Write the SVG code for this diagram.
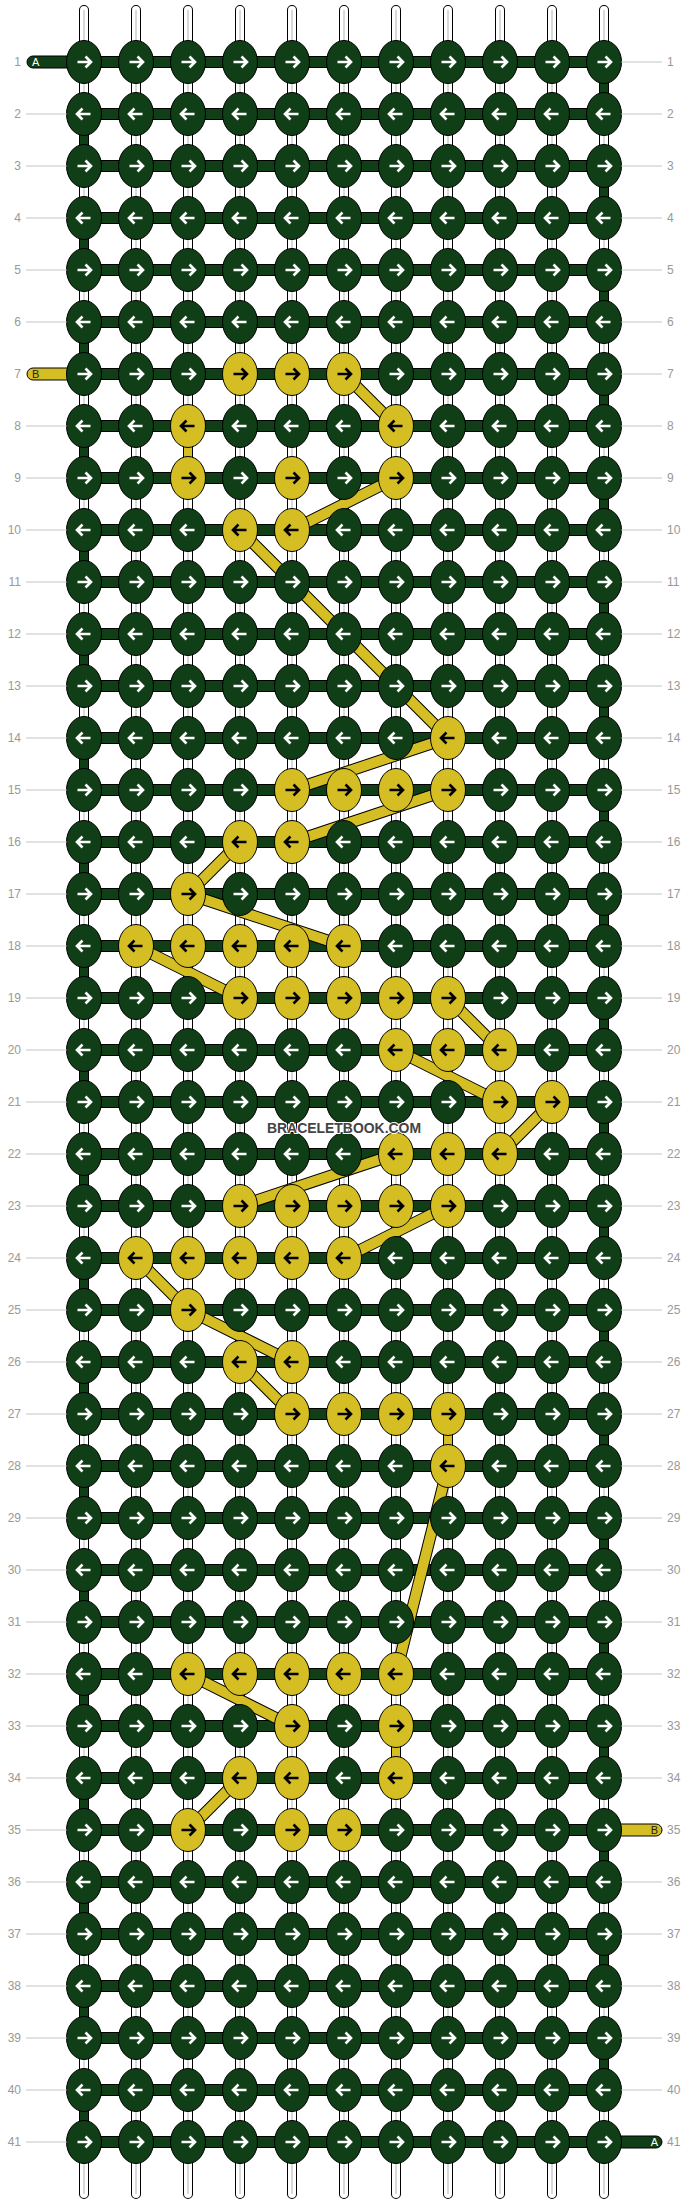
<svg xmlns="http://www.w3.org/2000/svg" width="688" height="2204" viewBox="0 0 688 2204">
<style>
.so{fill:none;stroke:#000;stroke-width:10;stroke-linecap:round}
.si{fill:none;stroke:#fff;stroke-width:8;stroke-linecap:round}
.sc{fill:none;stroke:#b4b4b4;stroke-width:1}
.vo{fill:none;stroke:#000;stroke-width:10}
.vg{fill:none;stroke:#103e16;stroke-width:8}
.vy{fill:none;stroke:#d4be24;stroke-width:8}
.ho{fill:none;stroke:#000;stroke-width:12}
.hg{fill:none;stroke:#103e16;stroke-width:10}
.co{fill:none;stroke:#000;stroke-width:12}
.ci{fill:none;stroke:#d4be24;stroke-width:10}
.gl{fill:none;stroke:#c4c4c4;stroke-width:1}
.num{font-family:"Liberation Sans",Arial,sans-serif;font-size:12px;fill:#999}
.nr{text-anchor:end}
.lab{font-family:"Liberation Sans",Arial,sans-serif;font-size:11px}
.wm{font-family:"Liberation Sans",Arial,sans-serif;font-size:15px;font-weight:bold;fill:#444;stroke:#fff;stroke-width:2;paint-order:stroke;text-anchor:middle}
</style>
<defs>
<g id="GR"><ellipse rx="17.5" ry="21.5" fill="#103e16" stroke="#000"/><path d="M-6.5,0H7M1.5,-5.5L7,0L1.5,5.5" fill="none" stroke="#fff" stroke-width="2.6"/></g>
<g id="GL"><ellipse rx="17.5" ry="21.5" fill="#103e16" stroke="#000"/><path d="M6.5,0H-7M-1.5,-5.5L-7,0L-1.5,5.5" fill="none" stroke="#fff" stroke-width="2.6"/></g>
<g id="YR"><ellipse rx="17.5" ry="21.5" fill="#d4be24" stroke="#000"/><path d="M-6.5,0H7M1.5,-5.5L7,0L1.5,5.5" fill="none" stroke="#000" stroke-width="2.6"/></g>
<g id="YL"><ellipse rx="17.5" ry="21.5" fill="#d4be24" stroke="#000"/><path d="M6.5,0H-7M-1.5,-5.5L-7,0L-1.5,5.5" fill="none" stroke="#000" stroke-width="2.6"/></g>
</defs>

<g id="strings">
<path class="so" d="M84,10V2194M136,10V2194M188,10V2194M240,10V2194M292,10V2194M344,10V2194M396,10V2194M448,10V2194M500,10V2194M552,10V2194M604,10V2194"/>
<path class="si" d="M84,10V2194M136,10V2194M188,10V2194M240,10V2194M292,10V2194M344,10V2194M396,10V2194M448,10V2194M500,10V2194M552,10V2194M604,10V2194"/>
<path class="sc" d="M84,10V2194M136,10V2194M188,10V2194M240,10V2194M292,10V2194M344,10V2194M396,10V2194M448,10V2194M500,10V2194M552,10V2194M604,10V2194"/>
</g>

<g id="turns">
<path class="vo" d="M84,114V166M84,218V270M84,322V374M84,426V478M84,530V582M84,634V686M84,738V790M84,842V894M84,946V998M84,1050V1102M84,1154V1206M84,1258V1310M84,1362V1414M84,1466V1518M84,1570V1622M84,1674V1726M84,1778V1830M84,1882V1934M84,1986V2038M84,2090V2142M604,62V114M604,166V218M604,270V322M604,374V426M604,478V530M604,582V634M604,686V738M604,790V842M604,894V946M604,998V1050M604,1102V1154M604,1206V1258M604,1310V1362M604,1414V1466M604,1518V1570M604,1622V1674M604,1726V1778M604,1830V1882M604,1934V1986M604,2038V2090M188,426V478M448,1414V1466M396,1726V1778"/>
<path class="vg" d="M84,114V166M84,218V270M84,322V374M84,426V478M84,530V582M84,634V686M84,738V790M84,842V894M84,946V998M84,1050V1102M84,1154V1206M84,1258V1310M84,1362V1414M84,1466V1518M84,1570V1622M84,1674V1726M84,1778V1830M84,1882V1934M84,1986V2038M84,2090V2142M604,62V114M604,166V218M604,270V322M604,374V426M604,478V530M604,582V634M604,686V738M604,790V842M604,894V946M604,998V1050M604,1102V1154M604,1206V1258M604,1310V1362M604,1414V1466M604,1518V1570M604,1622V1674M604,1726V1778M604,1830V1882M604,1934V1986M604,2038V2090"/>
<path class="vy" d="M188,426V478M448,1414V1466M396,1726V1778"/>
</g>

<g id="bands">
<path class="ho" d="M84,62H604M84,114H604M84,166H604M84,218H604M84,270H604M84,322H604M84,374H604M84,426H604M84,478H604M84,530H604M84,582H604M84,634H604M84,686H604M84,738H604M84,790H604M84,842H604M84,894H604M84,946H604M84,998H604M84,1050H604M84,1102H604M84,1154H604M84,1206H604M84,1258H604M84,1310H604M84,1362H604M84,1414H604M84,1466H604M84,1518H604M84,1570H604M84,1622H604M84,1674H604M84,1726H604M84,1778H604M84,1830H604M84,1882H604M84,1934H604M84,1986H604M84,2038H604M84,2090H604M84,2142H604"/>
<path class="hg" d="M84,62H604M84,114H604M84,166H604M84,218H604M84,270H604M84,322H604M84,374H604M84,426H604M84,478H604M84,530H604M84,582H604M84,634H604M84,686H604M84,738H604M84,790H604M84,842H604M84,894H604M84,946H604M84,998H604M84,1050H604M84,1102H604M84,1154H604M84,1206H604M84,1258H604M84,1310H604M84,1362H604M84,1414H604M84,1466H604M84,1518H604M84,1570H604M84,1622H604M84,1674H604M84,1726H604M84,1778H604M84,1830H604M84,1882H604M84,1934H604M84,1986H604M84,2038H604M84,2090H604M84,2142H604"/>
</g>

<g id="ends">
<g id="endA1"><rect x="27" y="56" width="60" height="12" rx="6" fill="#103e16" stroke="#000"/><text class="lab" x="32" y="66" fill="#fff">A</text></g>
<g id="endB1"><rect x="27" y="368" width="60" height="12" rx="6" fill="#d4be24" stroke="#000"/><text class="lab" x="32" y="378" fill="#222">B</text></g>
<g id="endB2"><rect x="601" y="1824" width="61" height="12" rx="6" fill="#d4be24" stroke="#000"/><text class="lab" x="658" y="1834" fill="#222" text-anchor="end">B</text></g>
<g id="endA2"><rect x="601" y="2136" width="61" height="12" rx="6" fill="#103e16" stroke="#000"/><text class="lab" x="658" y="2146" fill="#fff" text-anchor="end">A</text></g>
</g>

<g id="connectors">
<path class="co" d="M344,374L396,426M396,478L292,530M240,530L448,738M448,738L292,790M448,790L292,842M240,842L188,894M188,894L344,946M136,946L240,998M448,998L500,1050M396,1050L500,1102M552,1102L500,1154M396,1154L240,1206M448,1206L344,1258M136,1258L188,1310M188,1310L292,1362M240,1362L292,1414M448,1466L396,1674M188,1674L292,1726M240,1778L188,1830"/>
<path class="ci" d="M344,374L396,426M396,478L292,530M240,530L448,738M448,738L292,790M448,790L292,842M240,842L188,894M188,894L344,946M136,946L240,998M448,998L500,1050M396,1050L500,1102M552,1102L500,1154M396,1154L240,1206M448,1206L344,1258M136,1258L188,1310M188,1310L292,1362M240,1362L292,1414M448,1466L396,1674M188,1674L292,1726M240,1778L188,1830"/>
</g>

<g id="knots">
<g id="row1" transform="translate(0,62)"><g id="n1-1"><use href="#GR" x="84"/></g><g id="n1-2"><use href="#GR" x="136"/></g><g id="n1-3"><use href="#GR" x="188"/></g><g id="n1-4"><use href="#GR" x="240"/></g><g id="n1-5"><use href="#GR" x="292"/></g><g id="n1-6"><use href="#GR" x="344"/></g><g id="n1-7"><use href="#GR" x="396"/></g><g id="n1-8"><use href="#GR" x="448"/></g><g id="n1-9"><use href="#GR" x="500"/></g><g id="n1-10"><use href="#GR" x="552"/></g><g id="n1-11"><use href="#GR" x="604"/></g></g>
<g id="row2" transform="translate(0,114)"><g id="n2-1"><use href="#GL" x="84"/></g><g id="n2-2"><use href="#GL" x="136"/></g><g id="n2-3"><use href="#GL" x="188"/></g><g id="n2-4"><use href="#GL" x="240"/></g><g id="n2-5"><use href="#GL" x="292"/></g><g id="n2-6"><use href="#GL" x="344"/></g><g id="n2-7"><use href="#GL" x="396"/></g><g id="n2-8"><use href="#GL" x="448"/></g><g id="n2-9"><use href="#GL" x="500"/></g><g id="n2-10"><use href="#GL" x="552"/></g><g id="n2-11"><use href="#GL" x="604"/></g></g>
<g id="row3" transform="translate(0,166)"><g id="n3-1"><use href="#GR" x="84"/></g><g id="n3-2"><use href="#GR" x="136"/></g><g id="n3-3"><use href="#GR" x="188"/></g><g id="n3-4"><use href="#GR" x="240"/></g><g id="n3-5"><use href="#GR" x="292"/></g><g id="n3-6"><use href="#GR" x="344"/></g><g id="n3-7"><use href="#GR" x="396"/></g><g id="n3-8"><use href="#GR" x="448"/></g><g id="n3-9"><use href="#GR" x="500"/></g><g id="n3-10"><use href="#GR" x="552"/></g><g id="n3-11"><use href="#GR" x="604"/></g></g>
<g id="row4" transform="translate(0,218)"><g id="n4-1"><use href="#GL" x="84"/></g><g id="n4-2"><use href="#GL" x="136"/></g><g id="n4-3"><use href="#GL" x="188"/></g><g id="n4-4"><use href="#GL" x="240"/></g><g id="n4-5"><use href="#GL" x="292"/></g><g id="n4-6"><use href="#GL" x="344"/></g><g id="n4-7"><use href="#GL" x="396"/></g><g id="n4-8"><use href="#GL" x="448"/></g><g id="n4-9"><use href="#GL" x="500"/></g><g id="n4-10"><use href="#GL" x="552"/></g><g id="n4-11"><use href="#GL" x="604"/></g></g>
<g id="row5" transform="translate(0,270)"><g id="n5-1"><use href="#GR" x="84"/></g><g id="n5-2"><use href="#GR" x="136"/></g><g id="n5-3"><use href="#GR" x="188"/></g><g id="n5-4"><use href="#GR" x="240"/></g><g id="n5-5"><use href="#GR" x="292"/></g><g id="n5-6"><use href="#GR" x="344"/></g><g id="n5-7"><use href="#GR" x="396"/></g><g id="n5-8"><use href="#GR" x="448"/></g><g id="n5-9"><use href="#GR" x="500"/></g><g id="n5-10"><use href="#GR" x="552"/></g><g id="n5-11"><use href="#GR" x="604"/></g></g>
<g id="row6" transform="translate(0,322)"><g id="n6-1"><use href="#GL" x="84"/></g><g id="n6-2"><use href="#GL" x="136"/></g><g id="n6-3"><use href="#GL" x="188"/></g><g id="n6-4"><use href="#GL" x="240"/></g><g id="n6-5"><use href="#GL" x="292"/></g><g id="n6-6"><use href="#GL" x="344"/></g><g id="n6-7"><use href="#GL" x="396"/></g><g id="n6-8"><use href="#GL" x="448"/></g><g id="n6-9"><use href="#GL" x="500"/></g><g id="n6-10"><use href="#GL" x="552"/></g><g id="n6-11"><use href="#GL" x="604"/></g></g>
<g id="row7" transform="translate(0,374)"><g id="n7-1"><use href="#GR" x="84"/></g><g id="n7-2"><use href="#GR" x="136"/></g><g id="n7-3"><use href="#GR" x="188"/></g><g id="n7-4"><use href="#YR" x="240"/></g><g id="n7-5"><use href="#YR" x="292"/></g><g id="n7-6"><use href="#YR" x="344"/></g><g id="n7-7"><use href="#GR" x="396"/></g><g id="n7-8"><use href="#GR" x="448"/></g><g id="n7-9"><use href="#GR" x="500"/></g><g id="n7-10"><use href="#GR" x="552"/></g><g id="n7-11"><use href="#GR" x="604"/></g></g>
<g id="row8" transform="translate(0,426)"><g id="n8-1"><use href="#GL" x="84"/></g><g id="n8-2"><use href="#GL" x="136"/></g><g id="n8-3"><use href="#YL" x="188"/></g><g id="n8-4"><use href="#GL" x="240"/></g><g id="n8-5"><use href="#GL" x="292"/></g><g id="n8-6"><use href="#GL" x="344"/></g><g id="n8-7"><use href="#YL" x="396"/></g><g id="n8-8"><use href="#GL" x="448"/></g><g id="n8-9"><use href="#GL" x="500"/></g><g id="n8-10"><use href="#GL" x="552"/></g><g id="n8-11"><use href="#GL" x="604"/></g></g>
<g id="row9" transform="translate(0,478)"><g id="n9-1"><use href="#GR" x="84"/></g><g id="n9-2"><use href="#GR" x="136"/></g><g id="n9-3"><use href="#YR" x="188"/></g><g id="n9-4"><use href="#GR" x="240"/></g><g id="n9-5"><use href="#YR" x="292"/></g><g id="n9-6"><use href="#GR" x="344"/></g><g id="n9-7"><use href="#YR" x="396"/></g><g id="n9-8"><use href="#GR" x="448"/></g><g id="n9-9"><use href="#GR" x="500"/></g><g id="n9-10"><use href="#GR" x="552"/></g><g id="n9-11"><use href="#GR" x="604"/></g></g>
<g id="row10" transform="translate(0,530)"><g id="n10-1"><use href="#GL" x="84"/></g><g id="n10-2"><use href="#GL" x="136"/></g><g id="n10-3"><use href="#GL" x="188"/></g><g id="n10-4"><use href="#YL" x="240"/></g><g id="n10-5"><use href="#YL" x="292"/></g><g id="n10-6"><use href="#GL" x="344"/></g><g id="n10-7"><use href="#GL" x="396"/></g><g id="n10-8"><use href="#GL" x="448"/></g><g id="n10-9"><use href="#GL" x="500"/></g><g id="n10-10"><use href="#GL" x="552"/></g><g id="n10-11"><use href="#GL" x="604"/></g></g>
<g id="row11" transform="translate(0,582)"><g id="n11-1"><use href="#GR" x="84"/></g><g id="n11-2"><use href="#GR" x="136"/></g><g id="n11-3"><use href="#GR" x="188"/></g><g id="n11-4"><use href="#GR" x="240"/></g><g id="n11-5"><use href="#GR" x="292"/></g><g id="n11-6"><use href="#GR" x="344"/></g><g id="n11-7"><use href="#GR" x="396"/></g><g id="n11-8"><use href="#GR" x="448"/></g><g id="n11-9"><use href="#GR" x="500"/></g><g id="n11-10"><use href="#GR" x="552"/></g><g id="n11-11"><use href="#GR" x="604"/></g></g>
<g id="row12" transform="translate(0,634)"><g id="n12-1"><use href="#GL" x="84"/></g><g id="n12-2"><use href="#GL" x="136"/></g><g id="n12-3"><use href="#GL" x="188"/></g><g id="n12-4"><use href="#GL" x="240"/></g><g id="n12-5"><use href="#GL" x="292"/></g><g id="n12-6"><use href="#GL" x="344"/></g><g id="n12-7"><use href="#GL" x="396"/></g><g id="n12-8"><use href="#GL" x="448"/></g><g id="n12-9"><use href="#GL" x="500"/></g><g id="n12-10"><use href="#GL" x="552"/></g><g id="n12-11"><use href="#GL" x="604"/></g></g>
<g id="row13" transform="translate(0,686)"><g id="n13-1"><use href="#GR" x="84"/></g><g id="n13-2"><use href="#GR" x="136"/></g><g id="n13-3"><use href="#GR" x="188"/></g><g id="n13-4"><use href="#GR" x="240"/></g><g id="n13-5"><use href="#GR" x="292"/></g><g id="n13-6"><use href="#GR" x="344"/></g><g id="n13-7"><use href="#GR" x="396"/></g><g id="n13-8"><use href="#GR" x="448"/></g><g id="n13-9"><use href="#GR" x="500"/></g><g id="n13-10"><use href="#GR" x="552"/></g><g id="n13-11"><use href="#GR" x="604"/></g></g>
<g id="row14" transform="translate(0,738)"><g id="n14-1"><use href="#GL" x="84"/></g><g id="n14-2"><use href="#GL" x="136"/></g><g id="n14-3"><use href="#GL" x="188"/></g><g id="n14-4"><use href="#GL" x="240"/></g><g id="n14-5"><use href="#GL" x="292"/></g><g id="n14-6"><use href="#GL" x="344"/></g><g id="n14-7"><use href="#GL" x="396"/></g><g id="n14-8"><use href="#YL" x="448"/></g><g id="n14-9"><use href="#GL" x="500"/></g><g id="n14-10"><use href="#GL" x="552"/></g><g id="n14-11"><use href="#GL" x="604"/></g></g>
<g id="row15" transform="translate(0,790)"><g id="n15-1"><use href="#GR" x="84"/></g><g id="n15-2"><use href="#GR" x="136"/></g><g id="n15-3"><use href="#GR" x="188"/></g><g id="n15-4"><use href="#GR" x="240"/></g><g id="n15-5"><use href="#YR" x="292"/></g><g id="n15-6"><use href="#YR" x="344"/></g><g id="n15-7"><use href="#YR" x="396"/></g><g id="n15-8"><use href="#YR" x="448"/></g><g id="n15-9"><use href="#GR" x="500"/></g><g id="n15-10"><use href="#GR" x="552"/></g><g id="n15-11"><use href="#GR" x="604"/></g></g>
<g id="row16" transform="translate(0,842)"><g id="n16-1"><use href="#GL" x="84"/></g><g id="n16-2"><use href="#GL" x="136"/></g><g id="n16-3"><use href="#GL" x="188"/></g><g id="n16-4"><use href="#YL" x="240"/></g><g id="n16-5"><use href="#YL" x="292"/></g><g id="n16-6"><use href="#GL" x="344"/></g><g id="n16-7"><use href="#GL" x="396"/></g><g id="n16-8"><use href="#GL" x="448"/></g><g id="n16-9"><use href="#GL" x="500"/></g><g id="n16-10"><use href="#GL" x="552"/></g><g id="n16-11"><use href="#GL" x="604"/></g></g>
<g id="row17" transform="translate(0,894)"><g id="n17-1"><use href="#GR" x="84"/></g><g id="n17-2"><use href="#GR" x="136"/></g><g id="n17-3"><use href="#YR" x="188"/></g><g id="n17-4"><use href="#GR" x="240"/></g><g id="n17-5"><use href="#GR" x="292"/></g><g id="n17-6"><use href="#GR" x="344"/></g><g id="n17-7"><use href="#GR" x="396"/></g><g id="n17-8"><use href="#GR" x="448"/></g><g id="n17-9"><use href="#GR" x="500"/></g><g id="n17-10"><use href="#GR" x="552"/></g><g id="n17-11"><use href="#GR" x="604"/></g></g>
<g id="row18" transform="translate(0,946)"><g id="n18-1"><use href="#GL" x="84"/></g><g id="n18-2"><use href="#YL" x="136"/></g><g id="n18-3"><use href="#YL" x="188"/></g><g id="n18-4"><use href="#YL" x="240"/></g><g id="n18-5"><use href="#YL" x="292"/></g><g id="n18-6"><use href="#YL" x="344"/></g><g id="n18-7"><use href="#GL" x="396"/></g><g id="n18-8"><use href="#GL" x="448"/></g><g id="n18-9"><use href="#GL" x="500"/></g><g id="n18-10"><use href="#GL" x="552"/></g><g id="n18-11"><use href="#GL" x="604"/></g></g>
<g id="row19" transform="translate(0,998)"><g id="n19-1"><use href="#GR" x="84"/></g><g id="n19-2"><use href="#GR" x="136"/></g><g id="n19-3"><use href="#GR" x="188"/></g><g id="n19-4"><use href="#YR" x="240"/></g><g id="n19-5"><use href="#YR" x="292"/></g><g id="n19-6"><use href="#YR" x="344"/></g><g id="n19-7"><use href="#YR" x="396"/></g><g id="n19-8"><use href="#YR" x="448"/></g><g id="n19-9"><use href="#GR" x="500"/></g><g id="n19-10"><use href="#GR" x="552"/></g><g id="n19-11"><use href="#GR" x="604"/></g></g>
<g id="row20" transform="translate(0,1050)"><g id="n20-1"><use href="#GL" x="84"/></g><g id="n20-2"><use href="#GL" x="136"/></g><g id="n20-3"><use href="#GL" x="188"/></g><g id="n20-4"><use href="#GL" x="240"/></g><g id="n20-5"><use href="#GL" x="292"/></g><g id="n20-6"><use href="#GL" x="344"/></g><g id="n20-7"><use href="#YL" x="396"/></g><g id="n20-8"><use href="#YL" x="448"/></g><g id="n20-9"><use href="#YL" x="500"/></g><g id="n20-10"><use href="#GL" x="552"/></g><g id="n20-11"><use href="#GL" x="604"/></g></g>
<g id="row21" transform="translate(0,1102)"><g id="n21-1"><use href="#GR" x="84"/></g><g id="n21-2"><use href="#GR" x="136"/></g><g id="n21-3"><use href="#GR" x="188"/></g><g id="n21-4"><use href="#GR" x="240"/></g><g id="n21-5"><use href="#GR" x="292"/></g><g id="n21-6"><use href="#GR" x="344"/></g><g id="n21-7"><use href="#GR" x="396"/></g><g id="n21-8"><use href="#GR" x="448"/></g><g id="n21-9"><use href="#YR" x="500"/></g><g id="n21-10"><use href="#YR" x="552"/></g><g id="n21-11"><use href="#GR" x="604"/></g></g>
<g id="row22" transform="translate(0,1154)"><g id="n22-1"><use href="#GL" x="84"/></g><g id="n22-2"><use href="#GL" x="136"/></g><g id="n22-3"><use href="#GL" x="188"/></g><g id="n22-4"><use href="#GL" x="240"/></g><g id="n22-5"><use href="#GL" x="292"/></g><g id="n22-6"><use href="#GL" x="344"/></g><g id="n22-7"><use href="#YL" x="396"/></g><g id="n22-8"><use href="#YL" x="448"/></g><g id="n22-9"><use href="#YL" x="500"/></g><g id="n22-10"><use href="#GL" x="552"/></g><g id="n22-11"><use href="#GL" x="604"/></g></g>
<g id="row23" transform="translate(0,1206)"><g id="n23-1"><use href="#GR" x="84"/></g><g id="n23-2"><use href="#GR" x="136"/></g><g id="n23-3"><use href="#GR" x="188"/></g><g id="n23-4"><use href="#YR" x="240"/></g><g id="n23-5"><use href="#YR" x="292"/></g><g id="n23-6"><use href="#YR" x="344"/></g><g id="n23-7"><use href="#YR" x="396"/></g><g id="n23-8"><use href="#YR" x="448"/></g><g id="n23-9"><use href="#GR" x="500"/></g><g id="n23-10"><use href="#GR" x="552"/></g><g id="n23-11"><use href="#GR" x="604"/></g></g>
<g id="row24" transform="translate(0,1258)"><g id="n24-1"><use href="#GL" x="84"/></g><g id="n24-2"><use href="#YL" x="136"/></g><g id="n24-3"><use href="#YL" x="188"/></g><g id="n24-4"><use href="#YL" x="240"/></g><g id="n24-5"><use href="#YL" x="292"/></g><g id="n24-6"><use href="#YL" x="344"/></g><g id="n24-7"><use href="#GL" x="396"/></g><g id="n24-8"><use href="#GL" x="448"/></g><g id="n24-9"><use href="#GL" x="500"/></g><g id="n24-10"><use href="#GL" x="552"/></g><g id="n24-11"><use href="#GL" x="604"/></g></g>
<g id="row25" transform="translate(0,1310)"><g id="n25-1"><use href="#GR" x="84"/></g><g id="n25-2"><use href="#GR" x="136"/></g><g id="n25-3"><use href="#YR" x="188"/></g><g id="n25-4"><use href="#GR" x="240"/></g><g id="n25-5"><use href="#GR" x="292"/></g><g id="n25-6"><use href="#GR" x="344"/></g><g id="n25-7"><use href="#GR" x="396"/></g><g id="n25-8"><use href="#GR" x="448"/></g><g id="n25-9"><use href="#GR" x="500"/></g><g id="n25-10"><use href="#GR" x="552"/></g><g id="n25-11"><use href="#GR" x="604"/></g></g>
<g id="row26" transform="translate(0,1362)"><g id="n26-1"><use href="#GL" x="84"/></g><g id="n26-2"><use href="#GL" x="136"/></g><g id="n26-3"><use href="#GL" x="188"/></g><g id="n26-4"><use href="#YL" x="240"/></g><g id="n26-5"><use href="#YL" x="292"/></g><g id="n26-6"><use href="#GL" x="344"/></g><g id="n26-7"><use href="#GL" x="396"/></g><g id="n26-8"><use href="#GL" x="448"/></g><g id="n26-9"><use href="#GL" x="500"/></g><g id="n26-10"><use href="#GL" x="552"/></g><g id="n26-11"><use href="#GL" x="604"/></g></g>
<g id="row27" transform="translate(0,1414)"><g id="n27-1"><use href="#GR" x="84"/></g><g id="n27-2"><use href="#GR" x="136"/></g><g id="n27-3"><use href="#GR" x="188"/></g><g id="n27-4"><use href="#GR" x="240"/></g><g id="n27-5"><use href="#YR" x="292"/></g><g id="n27-6"><use href="#YR" x="344"/></g><g id="n27-7"><use href="#YR" x="396"/></g><g id="n27-8"><use href="#YR" x="448"/></g><g id="n27-9"><use href="#GR" x="500"/></g><g id="n27-10"><use href="#GR" x="552"/></g><g id="n27-11"><use href="#GR" x="604"/></g></g>
<g id="row28" transform="translate(0,1466)"><g id="n28-1"><use href="#GL" x="84"/></g><g id="n28-2"><use href="#GL" x="136"/></g><g id="n28-3"><use href="#GL" x="188"/></g><g id="n28-4"><use href="#GL" x="240"/></g><g id="n28-5"><use href="#GL" x="292"/></g><g id="n28-6"><use href="#GL" x="344"/></g><g id="n28-7"><use href="#GL" x="396"/></g><g id="n28-8"><use href="#YL" x="448"/></g><g id="n28-9"><use href="#GL" x="500"/></g><g id="n28-10"><use href="#GL" x="552"/></g><g id="n28-11"><use href="#GL" x="604"/></g></g>
<g id="row29" transform="translate(0,1518)"><g id="n29-1"><use href="#GR" x="84"/></g><g id="n29-2"><use href="#GR" x="136"/></g><g id="n29-3"><use href="#GR" x="188"/></g><g id="n29-4"><use href="#GR" x="240"/></g><g id="n29-5"><use href="#GR" x="292"/></g><g id="n29-6"><use href="#GR" x="344"/></g><g id="n29-7"><use href="#GR" x="396"/></g><g id="n29-8"><use href="#GR" x="448"/></g><g id="n29-9"><use href="#GR" x="500"/></g><g id="n29-10"><use href="#GR" x="552"/></g><g id="n29-11"><use href="#GR" x="604"/></g></g>
<g id="row30" transform="translate(0,1570)"><g id="n30-1"><use href="#GL" x="84"/></g><g id="n30-2"><use href="#GL" x="136"/></g><g id="n30-3"><use href="#GL" x="188"/></g><g id="n30-4"><use href="#GL" x="240"/></g><g id="n30-5"><use href="#GL" x="292"/></g><g id="n30-6"><use href="#GL" x="344"/></g><g id="n30-7"><use href="#GL" x="396"/></g><g id="n30-8"><use href="#GL" x="448"/></g><g id="n30-9"><use href="#GL" x="500"/></g><g id="n30-10"><use href="#GL" x="552"/></g><g id="n30-11"><use href="#GL" x="604"/></g></g>
<g id="row31" transform="translate(0,1622)"><g id="n31-1"><use href="#GR" x="84"/></g><g id="n31-2"><use href="#GR" x="136"/></g><g id="n31-3"><use href="#GR" x="188"/></g><g id="n31-4"><use href="#GR" x="240"/></g><g id="n31-5"><use href="#GR" x="292"/></g><g id="n31-6"><use href="#GR" x="344"/></g><g id="n31-7"><use href="#GR" x="396"/></g><g id="n31-8"><use href="#GR" x="448"/></g><g id="n31-9"><use href="#GR" x="500"/></g><g id="n31-10"><use href="#GR" x="552"/></g><g id="n31-11"><use href="#GR" x="604"/></g></g>
<g id="row32" transform="translate(0,1674)"><g id="n32-1"><use href="#GL" x="84"/></g><g id="n32-2"><use href="#GL" x="136"/></g><g id="n32-3"><use href="#YL" x="188"/></g><g id="n32-4"><use href="#YL" x="240"/></g><g id="n32-5"><use href="#YL" x="292"/></g><g id="n32-6"><use href="#YL" x="344"/></g><g id="n32-7"><use href="#YL" x="396"/></g><g id="n32-8"><use href="#GL" x="448"/></g><g id="n32-9"><use href="#GL" x="500"/></g><g id="n32-10"><use href="#GL" x="552"/></g><g id="n32-11"><use href="#GL" x="604"/></g></g>
<g id="row33" transform="translate(0,1726)"><g id="n33-1"><use href="#GR" x="84"/></g><g id="n33-2"><use href="#GR" x="136"/></g><g id="n33-3"><use href="#GR" x="188"/></g><g id="n33-4"><use href="#GR" x="240"/></g><g id="n33-5"><use href="#YR" x="292"/></g><g id="n33-6"><use href="#GR" x="344"/></g><g id="n33-7"><use href="#YR" x="396"/></g><g id="n33-8"><use href="#GR" x="448"/></g><g id="n33-9"><use href="#GR" x="500"/></g><g id="n33-10"><use href="#GR" x="552"/></g><g id="n33-11"><use href="#GR" x="604"/></g></g>
<g id="row34" transform="translate(0,1778)"><g id="n34-1"><use href="#GL" x="84"/></g><g id="n34-2"><use href="#GL" x="136"/></g><g id="n34-3"><use href="#GL" x="188"/></g><g id="n34-4"><use href="#YL" x="240"/></g><g id="n34-5"><use href="#YL" x="292"/></g><g id="n34-6"><use href="#GL" x="344"/></g><g id="n34-7"><use href="#YL" x="396"/></g><g id="n34-8"><use href="#GL" x="448"/></g><g id="n34-9"><use href="#GL" x="500"/></g><g id="n34-10"><use href="#GL" x="552"/></g><g id="n34-11"><use href="#GL" x="604"/></g></g>
<g id="row35" transform="translate(0,1830)"><g id="n35-1"><use href="#GR" x="84"/></g><g id="n35-2"><use href="#GR" x="136"/></g><g id="n35-3"><use href="#YR" x="188"/></g><g id="n35-4"><use href="#GR" x="240"/></g><g id="n35-5"><use href="#YR" x="292"/></g><g id="n35-6"><use href="#YR" x="344"/></g><g id="n35-7"><use href="#GR" x="396"/></g><g id="n35-8"><use href="#GR" x="448"/></g><g id="n35-9"><use href="#GR" x="500"/></g><g id="n35-10"><use href="#GR" x="552"/></g><g id="n35-11"><use href="#GR" x="604"/></g></g>
<g id="row36" transform="translate(0,1882)"><g id="n36-1"><use href="#GL" x="84"/></g><g id="n36-2"><use href="#GL" x="136"/></g><g id="n36-3"><use href="#GL" x="188"/></g><g id="n36-4"><use href="#GL" x="240"/></g><g id="n36-5"><use href="#GL" x="292"/></g><g id="n36-6"><use href="#GL" x="344"/></g><g id="n36-7"><use href="#GL" x="396"/></g><g id="n36-8"><use href="#GL" x="448"/></g><g id="n36-9"><use href="#GL" x="500"/></g><g id="n36-10"><use href="#GL" x="552"/></g><g id="n36-11"><use href="#GL" x="604"/></g></g>
<g id="row37" transform="translate(0,1934)"><g id="n37-1"><use href="#GR" x="84"/></g><g id="n37-2"><use href="#GR" x="136"/></g><g id="n37-3"><use href="#GR" x="188"/></g><g id="n37-4"><use href="#GR" x="240"/></g><g id="n37-5"><use href="#GR" x="292"/></g><g id="n37-6"><use href="#GR" x="344"/></g><g id="n37-7"><use href="#GR" x="396"/></g><g id="n37-8"><use href="#GR" x="448"/></g><g id="n37-9"><use href="#GR" x="500"/></g><g id="n37-10"><use href="#GR" x="552"/></g><g id="n37-11"><use href="#GR" x="604"/></g></g>
<g id="row38" transform="translate(0,1986)"><g id="n38-1"><use href="#GL" x="84"/></g><g id="n38-2"><use href="#GL" x="136"/></g><g id="n38-3"><use href="#GL" x="188"/></g><g id="n38-4"><use href="#GL" x="240"/></g><g id="n38-5"><use href="#GL" x="292"/></g><g id="n38-6"><use href="#GL" x="344"/></g><g id="n38-7"><use href="#GL" x="396"/></g><g id="n38-8"><use href="#GL" x="448"/></g><g id="n38-9"><use href="#GL" x="500"/></g><g id="n38-10"><use href="#GL" x="552"/></g><g id="n38-11"><use href="#GL" x="604"/></g></g>
<g id="row39" transform="translate(0,2038)"><g id="n39-1"><use href="#GR" x="84"/></g><g id="n39-2"><use href="#GR" x="136"/></g><g id="n39-3"><use href="#GR" x="188"/></g><g id="n39-4"><use href="#GR" x="240"/></g><g id="n39-5"><use href="#GR" x="292"/></g><g id="n39-6"><use href="#GR" x="344"/></g><g id="n39-7"><use href="#GR" x="396"/></g><g id="n39-8"><use href="#GR" x="448"/></g><g id="n39-9"><use href="#GR" x="500"/></g><g id="n39-10"><use href="#GR" x="552"/></g><g id="n39-11"><use href="#GR" x="604"/></g></g>
<g id="row40" transform="translate(0,2090)"><g id="n40-1"><use href="#GL" x="84"/></g><g id="n40-2"><use href="#GL" x="136"/></g><g id="n40-3"><use href="#GL" x="188"/></g><g id="n40-4"><use href="#GL" x="240"/></g><g id="n40-5"><use href="#GL" x="292"/></g><g id="n40-6"><use href="#GL" x="344"/></g><g id="n40-7"><use href="#GL" x="396"/></g><g id="n40-8"><use href="#GL" x="448"/></g><g id="n40-9"><use href="#GL" x="500"/></g><g id="n40-10"><use href="#GL" x="552"/></g><g id="n40-11"><use href="#GL" x="604"/></g></g>
<g id="row41" transform="translate(0,2142)"><g id="n41-1"><use href="#GR" x="84"/></g><g id="n41-2"><use href="#GR" x="136"/></g><g id="n41-3"><use href="#GR" x="188"/></g><g id="n41-4"><use href="#GR" x="240"/></g><g id="n41-5"><use href="#GR" x="292"/></g><g id="n41-6"><use href="#GR" x="344"/></g><g id="n41-7"><use href="#GR" x="396"/></g><g id="n41-8"><use href="#GR" x="448"/></g><g id="n41-9"><use href="#GR" x="500"/></g><g id="n41-10"><use href="#GR" x="552"/></g><g id="n41-11"><use href="#GR" x="604"/></g></g>
</g>

<g id="guides">
<path class="gl" d="M26,114H67M26,166H67M26,218H67M26,270H67M26,322H67M26,426H67M26,478H67M26,530H67M26,582H67M26,634H67M26,686H67M26,738H67M26,790H67M26,842H67M26,894H67M26,946H67M26,998H67M26,1050H67M26,1102H67M26,1154H67M26,1206H67M26,1258H67M26,1310H67M26,1362H67M26,1414H67M26,1466H67M26,1518H67M26,1570H67M26,1622H67M26,1674H67M26,1726H67M26,1778H67M26,1830H67M26,1882H67M26,1934H67M26,1986H67M26,2038H67M26,2090H67M26,2142H67M621,62H662M621,114H662M621,166H662M621,218H662M621,270H662M621,322H662M621,374H662M621,426H662M621,478H662M621,530H662M621,582H662M621,634H662M621,686H662M621,738H662M621,790H662M621,842H662M621,894H662M621,946H662M621,998H662M621,1050H662M621,1102H662M621,1154H662M621,1206H662M621,1258H662M621,1310H662M621,1362H662M621,1414H662M621,1466H662M621,1518H662M621,1570H662M621,1622H662M621,1674H662M621,1726H662M621,1778H662M621,1882H662M621,1934H662M621,1986H662M621,2038H662M621,2090H662"/>
</g>

<g id="numbers-left" class="num nr">
<text x="21" y="66">1</text><text x="21" y="118">2</text><text x="21" y="170">3</text><text x="21" y="222">4</text><text x="21" y="274">5</text><text x="21" y="326">6</text><text x="21" y="378">7</text><text x="21" y="430">8</text><text x="21" y="482">9</text><text x="21" y="534">10</text><text x="21" y="586">11</text><text x="21" y="638">12</text><text x="21" y="690">13</text><text x="21" y="742">14</text><text x="21" y="794">15</text><text x="21" y="846">16</text><text x="21" y="898">17</text><text x="21" y="950">18</text><text x="21" y="1002">19</text><text x="21" y="1054">20</text><text x="21" y="1106">21</text><text x="21" y="1158">22</text><text x="21" y="1210">23</text><text x="21" y="1262">24</text><text x="21" y="1314">25</text><text x="21" y="1366">26</text><text x="21" y="1418">27</text><text x="21" y="1470">28</text><text x="21" y="1522">29</text><text x="21" y="1574">30</text><text x="21" y="1626">31</text><text x="21" y="1678">32</text><text x="21" y="1730">33</text><text x="21" y="1782">34</text><text x="21" y="1834">35</text><text x="21" y="1886">36</text><text x="21" y="1938">37</text><text x="21" y="1990">38</text><text x="21" y="2042">39</text><text x="21" y="2094">40</text><text x="21" y="2146">41</text>
</g>
<g id="numbers-right" class="num">
<text x="667" y="66">1</text><text x="667" y="118">2</text><text x="667" y="170">3</text><text x="667" y="222">4</text><text x="667" y="274">5</text><text x="667" y="326">6</text><text x="667" y="378">7</text><text x="667" y="430">8</text><text x="667" y="482">9</text><text x="667" y="534">10</text><text x="667" y="586">11</text><text x="667" y="638">12</text><text x="667" y="690">13</text><text x="667" y="742">14</text><text x="667" y="794">15</text><text x="667" y="846">16</text><text x="667" y="898">17</text><text x="667" y="950">18</text><text x="667" y="1002">19</text><text x="667" y="1054">20</text><text x="667" y="1106">21</text><text x="667" y="1158">22</text><text x="667" y="1210">23</text><text x="667" y="1262">24</text><text x="667" y="1314">25</text><text x="667" y="1366">26</text><text x="667" y="1418">27</text><text x="667" y="1470">28</text><text x="667" y="1522">29</text><text x="667" y="1574">30</text><text x="667" y="1626">31</text><text x="667" y="1678">32</text><text x="667" y="1730">33</text><text x="667" y="1782">34</text><text x="667" y="1834">35</text><text x="667" y="1886">36</text><text x="667" y="1938">37</text><text x="667" y="1990">38</text><text x="667" y="2042">39</text><text x="667" y="2094">40</text><text x="667" y="2146">41</text>
</g>

<text id="watermark" class="wm" x="344" y="1133" textLength="154" lengthAdjust="spacingAndGlyphs">BRACELETBOOK.COM</text>
</svg>
